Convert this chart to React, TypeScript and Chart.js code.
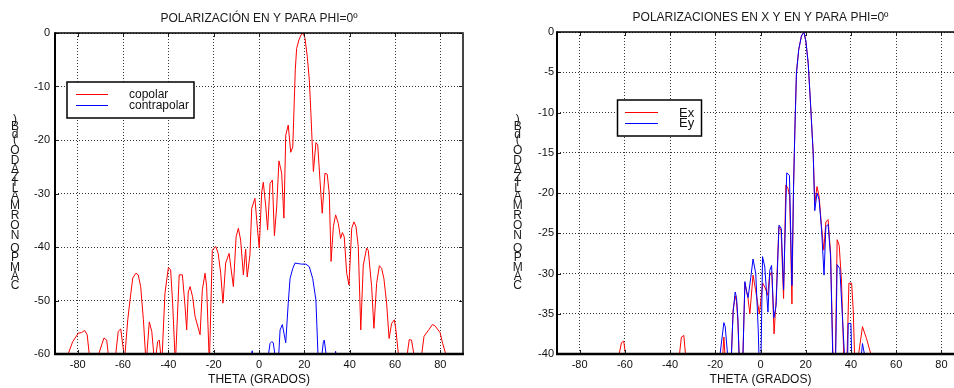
import React, { useEffect, useRef } from "react";
import { Chart, registerables } from "chart.js";

Chart.register(...registerables);

const FONT = "'Liberation Sans', Arial, Helvetica, sans-serif";

const TITLE_LEFT = "POLARIZACIÓN EN Y PARA PHI=0º";
const TITLE_RIGHT = "POLARIZACIONES EN X Y EN Y PARA PHI=0º";
const X_TITLE = "THETA (GRADOS)";
const Y_TITLE = "CAMPO NORMALIZADO (dB)";

const X_TICKS = [-80, -60, -40, -20, 0, 20, 40, 60, 80];
const Y_TICKS_LEFT = [-60, -50, -40, -30, -20, -10, 0];
const Y_TICKS_RIGHT = [-40, -35, -30, -25, -20, -15, -10, -5, 0];

// Left chart: copolar / contrapolar (dB vs theta)
const COP_THETA = [
  -84.2, -82.2, -80.8, -79.7, -78.3, -76.9, -75.8, -74.9, -72.8, -70.7,
  -68.4, -67.2, -66.5, -65.0, -63.2, -62.1, -61.0, -60.1, -59.3, -57.9,
  -56.9, -55.7, -54.3, -53.3, -52.2, -51.0, -49.8, -48.4, -47.3, -46.0,
  -44.7, -44.0, -42.9, -41.5, -40.0, -39.0, -38.1, -36.9, -35.2, -33.8,
  -32.6, -31.9, -31.2, -30.4, -29.3, -28.2, -26.0, -25.0, -23.8, -23.1,
  -21.9, -20.6, -19.1, -18.0, -16.9, -15.9, -14.7, -13.2, -11.3, -10.1,
  -9.1, -8.1, -6.9, -5.9, -5.2, -4.0, -3.2, -1.8, -1.0, 0.1,
  1.2, 1.9, 3.0, 3.8, 4.9, 5.9, 6.8, 7.8, 8.8, 10.0,
  11.0, 11.8, 12.9, 14.0, 14.9, 16.0, 16.6, 17.6, 18.5, 19.5,
  20.3, 21.3, 22.2, 22.9, 24.0, 25.1, 25.9, 26.9, 27.9, 29.1,
  30.1, 31.0, 31.8, 32.8, 33.8, 35.0, 36.0, 36.8, 37.6, 38.7,
  39.7, 40.9, 41.9, 42.8, 43.8, 44.9, 46.0, 47.5, 48.2, 49.7,
  50.7, 51.9, 53.1, 54.1, 55.1, 56.3, 57.4, 58.5, 59.7, 60.4,
  61.5, 63.5, 65.4, 66.3, 67.3, 68.3, 70.0, 71.8, 72.8, 74.7,
  76.5, 77.6, 79.9, 81.0, 82.4, 84.0,
];
const COP_DB = [
  -60, -57.7, -56.8, -56.1, -56.0, -55.6, -56.4, -60, -75, -60,
  -57.0, -57.4, -60, -75, -60, -55.8, -55.3, -58.3, -61, -53.6,
  -49.9, -45.8, -44.9, -45.2, -47.4, -53.6, -62, -54.0, -55.8, -62,
  -57.7, -57.4, -62, -48.7, -43.9, -44.2, -50.5, -62, -45.2, -45.2,
  -51.2, -55.5, -48.4, -47.4, -49.3, -53.0, -56.4, -48.0, -44.9, -47.4,
  -62, -40.6, -39.9, -41.2, -44.9, -50.5, -43.0, -41.2, -47.4, -38.1,
  -36.5, -38.7, -45.2, -40.4, -45.6, -41.5, -32.8, -30.9, -35.0, -40.2,
  -29.7, -27.9, -32.5, -36.8, -28.1, -27.5, -37.9, -32.5, -23.9, -26.2,
  -34.6, -19.1, -17.2, -22.3, -21.3, -6.9, -2.9, -1.3, -0.4, 0,
  -1.0, -4.4, -8.8, -15.0, -25.9, -20.5, -20.9, -27.5, -33.7, -26.2,
  -26.4, -30.0, -42.7, -36.2, -34.0, -35.6, -38.4, -37.3, -38.1, -44.9,
  -47.1, -36.5, -35.3, -36.2, -39.9, -55.5, -43.4, -40.2, -40.6, -47.4,
  -55.2, -46.8, -43.5, -44.0, -45.9, -50.5, -57.1, -54.3, -53.6, -55.5,
  -60, -75, -60, -57.3, -57.4, -60, -75, -60, -56.7, -55.6,
  -54.5, -54.7, -56.0, -58.0, -60, -70,
];

const CROSS_THETA = [
  -6.0, -3.6, -3.0, -2.4, 0.0, 3.5, 4.9, 5.6, 6.3, 7.3,
  8.0, 8.6, 9.3, 10.3, 11.8, 12.9, 13.7, 14.9, 15.9, 17.3,
  18.8, 20.7, 22.2, 23.7, 25.1, 26.2, 27.3, 28.4, 28.8, 29.9,
  31.8, 33.3, 33.8, 34.3, 36.0,
];
const CROSS_DB = [
  -70, -61, -59.4, -61, -70, -62, -58.0, -57.7, -57.9, -61,
  -64, -61, -55.5, -54.5, -57.9, -50.5, -45.9, -44.0, -43.0, -43.1,
  -43.2, -43.2, -43.7, -45.9, -49.9, -62, -62, -57.7, -57.4, -61,
  -70, -61, -59.5, -61, -70,
];

// Right chart: Ex / Ey
const EX_THETA = [
  -64.0, -63.2, -61.5, -60.5, -59.2, -50.0, -36.2, -35.0, -33.9, -32.9,
  -25.0, -17.0, -16.2, -15.4, -14.0, -12.9, -12.1, -11.2, -10.6, -10.0,
  -9.3, -8.6, -7.8, -6.9, -5.6, -4.7, -3.3, -2.2, -1.2, -0.5,
  1.0, 2.1, 3.2, 4.0, 5.0, 6.0, 6.9, 8.1, 9.1, 10.2,
  11.2, 12.1, 12.9, 13.9, 14.6, 15.2, 15.9, 16.9, 18.1, 19.2,
  20.1, 21.1, 22.1, 23.3, 24.0, 25.0, 25.9, 27.0, 28.0, 28.9,
  29.9, 31.0, 32.1, 32.6, 33.1, 33.9, 34.8, 35.8, 36.9, 37.5,
  38.2, 39.1, 40.3, 41.0, 41.7, 42.3, 42.9, 45.1, 46.9, 49.3,
  50.5,
];
const EX_DB = [
  -45, -41, -38.6, -38.4, -41, -55, -41, -37.9, -37.7, -41,
  -55, -41.5, -37.9, -41.5, -46, -40.5, -34.5, -32.8, -33.5, -36.0,
  -41, -45, -40.5, -31.2, -32.9, -35.0, -30.2, -32.0, -33.8, -35.0,
  -31.2, -31.8, -32.7, -30.3, -29.8, -37.5, -33.3, -24.2, -24.6, -33.1,
  -19.0, -19.4, -20.3, -33.8, -19.5, -12.2, -5.1, -2.2, -0.5, 0,
  -1.2, -3.9, -8.8, -15.0, -21.3, -19.2, -20.4, -24.2, -27.1, -23.6,
  -23.3, -27.5, -41, -44, -41, -25.8, -26.5, -30.8, -41, -45,
  -41, -31.2, -31.2, -34.5, -41, -44, -41, -36.6, -38.1, -40.5,
  -42,
];

const EY_THETA = [
  -20.0, -18.3, -16.2, -15.6, -14.3, -13.7, -13.0, -12.1, -11.2, -10.6,
  -10.0, -9.4, -8.6, -7.8, -6.9, -6.2, -5.5, -4.3, -3.3, -2.1,
  -1.0, -0.4, 0.2, 0.9, 1.9, 3.3, 4.1, 4.9, 5.9, 6.9,
  8.2, 9.2, 10.2, 11.6, 12.8, 13.9, 14.6, 15.2, 15.9, 16.9,
  18.1, 19.2, 20.1, 21.1, 22.1, 23.3, 24.0, 25.0, 25.9, 27.0,
  28.1, 28.9, 29.9, 31.0, 32.0, 32.6, 33.2, 33.9, 35.1, 36.3,
  37.3, 37.9, 38.5, 38.8, 40.0, 40.4, 42.5, 44.3, 45.1, 46.6,
  48.0,
];
const EY_DB = [
  -50, -41, -36.1, -36.6, -41, -44, -41, -34.8, -32.3, -33.0,
  -35.5, -41, -45, -40.5, -31.0, -32.2, -33.0, -30.5, -28.2, -30.0,
  -37.0, -43, -41, -27.9, -29.2, -34.8, -29.6, -29.0, -35.5, -34.0,
  -24.0, -24.4, -32.0, -17.5, -17.8, -31.5, -19.5, -12.2, -5.1, -2.2,
  -0.5, 0, -1.2, -3.9, -8.8, -15.0, -22.2, -20.0, -20.8, -24.5,
  -30.2, -24.2, -23.9, -28.0, -41, -44, -41, -28.9, -29.4, -35.8,
  -41, -44, -41, -36.2, -36.2, -41, -45, -41, -38.7, -41,
  -44,
];

const RED = "#ff0000";
const BLUE = "#0000ff";
const GRID = "#333333";

const xy = (xs: number[], ys: number[]) => xs.map((x, i) => ({ x, y: ys[i] }));

type LegendSpec = {
  x: number; y: number; w: number; h: number;
  lineX1: number; lineX2: number; lineY: number[];
  textX: number; textBase: number[]; font: number;
};

type Spec = {
  title: string;
  titleY: number;
  yMin: number;
  yTicks: number[];
  yAxisWidth: number;
  padLeft: number;
  padRight: number;
  padTop: number;
  yTickPad: number;
  yLabelX: number;
  legend: LegendSpec;
  datasets: any[];
};

function createChart(canvas: HTMLCanvasElement, spec: Spec) {
  const titlePlugin = {
    id: "customTitle",
    afterDraw(chart: any) {
      const { ctx, chartArea: a } = chart;
      ctx.save();
      ctx.font = `12px ${FONT}`;
      ctx.fillStyle = "#1a1a1a";
      ctx.textAlign = "center";
      ctx.textBaseline = "middle";
      ctx.fillText(spec.title, (a.left + a.right) / 2, spec.titleY);
      ctx.restore();
    },
  };

  const yLabelPlugin = {
    id: "stackedYLabel",
    afterDraw(chart: any) {
      const { ctx } = chart;
      ctx.save();
      ctx.font = `12px ${FONT}`;
      ctx.fillStyle = "#1a1a1a";
      ctx.textAlign = "center";
      ctx.textBaseline = "middle";
      let y = 290.5;
      for (const ch of Array.from(Y_TITLE)) {
        const w = ctx.measureText(ch).width * 1.07;
        if (ch !== " ") ctx.fillText(ch, spec.yLabelX, y - w / 2);
        y -= w;
      }
      ctx.restore();
    },
  };

  const legendPlugin = {
    id: "boxLegend",
    afterDraw(chart: any) {
      const { ctx } = chart;
      const L = spec.legend;
      ctx.save();
      ctx.fillStyle = "#ffffff";
      ctx.fillRect(L.x, L.y, L.w, L.h);
      ctx.strokeStyle = "#000";
      ctx.lineWidth = 1.5;
      ctx.setLineDash([]);
      ctx.strokeRect(L.x, L.y, L.w, L.h);
      chart.data.datasets.forEach((ds: any, i: number) => {
        ctx.strokeStyle = ds.borderColor;
        ctx.lineWidth = 1;
        ctx.beginPath();
        ctx.moveTo(L.lineX1, L.lineY[i]);
        ctx.lineTo(L.lineX2, L.lineY[i]);
        ctx.stroke();
        ctx.fillStyle = "#111";
        ctx.font = `${L.font}px ${FONT}`;
        ctx.textAlign = "left";
        ctx.textBaseline = "alphabetic";
        ctx.fillText(ds.label, L.textX, L.textBase[i]);
      });
      ctx.restore();
    },
  };

  const framePlugin = {
    id: "frame",
    afterDatasetsDraw(chart: any) {
      const { ctx, chartArea: a } = chart;
      const xs = chart.scales.x;
      const ys = chart.scales.y;
      ctx.save();
      ctx.setLineDash([]);
      ctx.strokeStyle = "#222";
      ctx.lineWidth = 1;
      ctx.beginPath();
      X_TICKS.forEach((v) => {
        const p = Math.round(xs.getPixelForValue(v)) + 0.5;
        ctx.moveTo(p, a.bottom);
        ctx.lineTo(p, a.bottom - 4);
        ctx.moveTo(p, a.top);
        ctx.lineTo(p, a.top + 4);
      });
      spec.yTicks.forEach((v) => {
        const p = Math.round(ys.getPixelForValue(v)) + 0.5;
        ctx.moveTo(a.left, p);
        ctx.lineTo(a.left + 4, p);
        ctx.moveTo(a.right, p);
        ctx.lineTo(a.right - 4, p);
      });
      ctx.stroke();
      const seg = (x1: number, y1: number, x2: number, y2: number, w: number, c: string) => {
        ctx.strokeStyle = c;
        ctx.lineWidth = w;
        ctx.beginPath();
        ctx.moveTo(x1, y1);
        ctx.lineTo(x2, y2);
        ctx.stroke();
      };
      seg(a.left, a.top, a.right, a.top, 1.5, "#000");
      seg(a.right, a.top - 0.75, a.right, a.bottom + 1, 2, "#444");
      seg(a.left, a.top - 0.75, a.left, a.bottom + 1, 2, "#000");
      seg(a.left - 1, a.bottom, a.right + 1, a.bottom, 2.5, "#000");
      ctx.restore();
    },
  };

  return new Chart(canvas, {
    type: "line",
    data: { datasets: spec.datasets },
    options: {
      responsive: false,
      animation: false,
      events: [],
      layout: {
        padding: { left: spec.padLeft, right: spec.padRight, top: spec.padTop, bottom: 0 },
      },
      plugins: {
        legend: { display: false },
        tooltip: { enabled: false },
        title: { display: false },
      },
      elements: {
        point: { radius: 0 },
        line: { tension: 0, borderWidth: 1 },
      },
      scales: {
        x: {
          type: "linear",
          min: -90,
          max: 90,
          afterBuildTicks: (s: any) => {
            s.ticks = X_TICKS.map((v) => ({ value: v }));
          },
          afterFit: (s: any) => {
            s.height = 34;
          },
          grid: { color: GRID, lineWidth: 1, drawTicks: false },
          border: { display: false, dash: [1, 2] },
          ticks: {
            padding: 4,
            color: "#111",
            autoSkip: false,
            maxRotation: 0,
            font: { family: FONT, size: 11 },
          },
          title: {
            display: true,
            text: X_TITLE,
            color: "#111",
            font: { family: FONT, size: 12 },
            padding: { top: 0, bottom: 1 },
          },
        },
        y: {
          type: "linear",
          min: spec.yMin,
          max: 0,
          afterBuildTicks: (s: any) => {
            s.ticks = spec.yTicks.map((v) => ({ value: v }));
          },
          afterFit: (s: any) => {
            s.width = spec.yAxisWidth;
          },
          grid: { color: GRID, lineWidth: 1, drawTicks: false },
          border: { display: false, dash: [1, 2] },
          ticks: {
            padding: spec.yTickPad,
            color: "#111",
            autoSkip: false,
            font: { family: FONT, size: 11 },
          },
        },
      },
    },
    plugins: [framePlugin, titlePlugin, yLabelPlugin, legendPlugin],
  } as any);
}

export default function App() {
  const leftRef = useRef<HTMLCanvasElement | null>(null);
  const rightRef = useRef<HTMLCanvasElement | null>(null);

  useEffect(() => {
    const left = createChart(leftRef.current!, {
      title: TITLE_LEFT,
      titleY: 18.5,
      yMin: -60,
      yTicks: Y_TICKS_LEFT,
      yAxisWidth: 55,
      padLeft: 0,
      padRight: 14,
      padTop: 33,
      yTickPad: 5,
      yLabelX: 15,
      legend: {
        x: 67, y: 82, w: 127, h: 36,
        lineX1: 76, lineX2: 108, lineY: [94.5, 105.5],
        textX: 129, textBase: [97.5, 108.5], font: 12,
      },
      datasets: [
        { label: "copolar", data: xy(COP_THETA, COP_DB), borderColor: RED, borderWidth: 1, pointRadius: 0, fill: false, order: 1 },
        { label: "contrapolar", data: xy(CROSS_THETA, CROSS_DB), borderColor: BLUE, borderWidth: 1, pointRadius: 0, fill: false, order: 0 },
      ],
    });
    const right = createChart(rightRef.current!, {
      title: TITLE_RIGHT,
      titleY: 17.5,
      yMin: -40,
      yTicks: Y_TICKS_RIGHT,
      yAxisWidth: 80,
      padLeft: 0,
      padRight: 13,
      padTop: 32,
      yTickPad: 3,
      yLabelX: 40.7,
      legend: {
        x: 140.5, y: 100, w: 84, h: 36,
        lineX1: 148, lineX2: 181, lineY: [112.5, 123.5],
        textX: 202, textBase: [116.7, 127.3], font: 13,
      },
      datasets: [
        { label: "Ex", data: xy(EX_THETA, EX_DB), borderColor: RED, borderWidth: 1, pointRadius: 0, fill: false, order: 1 },
        { label: "Ey", data: xy(EY_THETA, EY_DB), borderColor: BLUE, borderWidth: 1, pointRadius: 0, fill: false, order: 0 },
      ],
    });
    return () => {
      left.destroy();
      right.destroy();
    };
  }, []);

  return (
    <div
      style={{
        position: "fixed",
        left: 0,
        top: 0,
        width: 954,
        height: 388,
        overflow: "hidden",
        background: "#ffffff",
      }}
    >
      <canvas
        ref={leftRef}
        width={477}
        height={388}
        style={{ position: "absolute", left: 0, top: 0, width: 477, height: 388 }}
      />
      <canvas
        ref={rightRef}
        width={500}
        height={388}
        style={{ position: "absolute", left: 477, top: 0, width: 500, height: 388 }}
      />
    </div>
  );
}
